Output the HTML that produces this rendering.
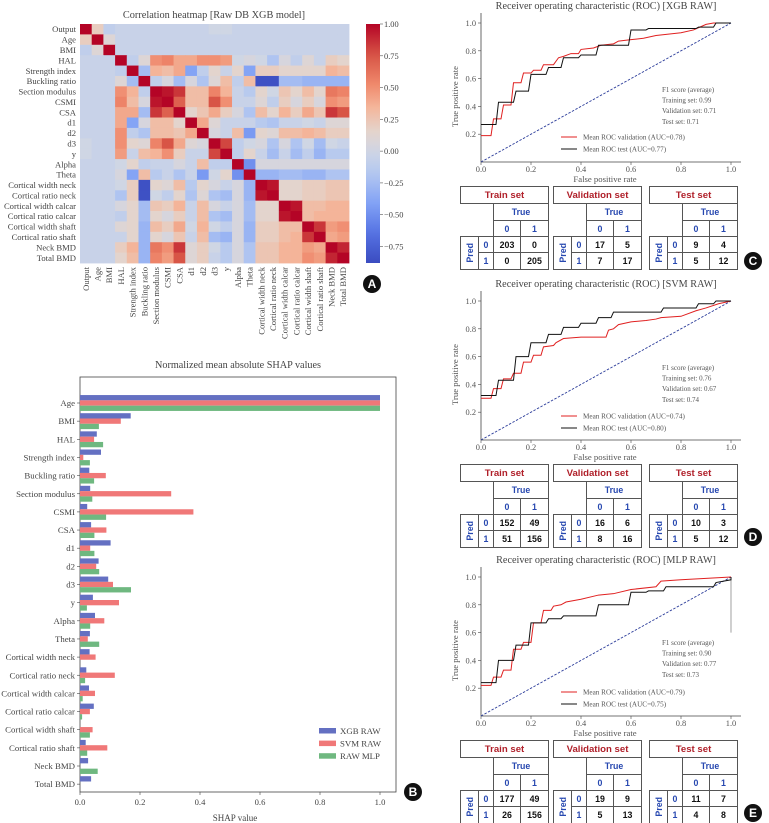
<!DOCTYPE html>
<html><head><meta charset="utf-8">
<style>
html,body{margin:0;padding:0;background:#fff;}
#root{position:relative;width:769px;height:823px;overflow:hidden;font-family:"Liberation Serif",serif;}
svg{position:absolute;left:0;top:0;}
.cell{position:absolute;box-sizing:border-box;border:1px solid #555;display:flex;align-items:center;justify-content:center;font-family:"Liberation Sans",sans-serif;font-weight:bold;font-size:8.8px;color:#111;background:#fff;}
.ttl{color:#b0202a;font-size:9.6px;}
.blue{color:#2748b0;}
.pred{writing-mode:vertical-rl;transform:rotate(180deg);}
.badge{position:absolute;width:18px;height:18px;border-radius:50%;background:#111;color:#fff;font-family:"Liberation Sans",sans-serif;font-weight:bold;font-size:12px;display:flex;align-items:center;justify-content:center;}
</style></head>
<body>
<div id="root">
<svg id="svg" width="769" height="823" viewBox="0 0 769 823"></svg>
<div class="badge" style="left:363px;top:275px">A</div>
<div class="badge" style="left:404px;top:783px">B</div>
<div class="badge" style="left:744px;top:252px">C</div>
<div class="badge" style="left:744px;top:528px">D</div>
<div class="badge" style="left:744px;top:804px">E</div>
</div>
<script>
// ---------- Heatmap data ----------
const heatLabels = ["Output","Age","BMI","HAL","Strength index","Buckling ratio","Section modulus","CSMI","CSA","d1","d2","d3","y","Alpha","Theta","Cortical width neck","Cortical ratio neck","Cortical width calcar","Cortical ratio calcar","Cortical width shaft","Cortical ratio shaft","Neck BMD","Total BMD"];
const corrUpper = [
 [0.2,-0.1,-0.05,-0.05,-0.05,-0.05,-0.05,-0.05,-0.05,-0.05,0.0,0.0,-0.05,-0.05,-0.05,-0.05,-0.05,-0.05,-0.05,-0.05,-0.05,-0.05],
 [0.1,-0.05,-0.05,-0.05,-0.05,-0.05,-0.05,-0.05,-0.05,-0.05,-0.05,-0.05,-0.05,-0.05,-0.05,-0.05,-0.05,-0.05,-0.05,-0.05,-0.05],
 [-0.05,-0.05,-0.05,-0.05,-0.05,-0.05,-0.05,-0.05,-0.05,-0.05,-0.05,-0.05,-0.05,-0.05,-0.05,-0.05,-0.05,-0.05,-0.05,-0.05],
 [-0.1,0.1,0.5,0.55,0.4,0.4,0.5,0.5,0.45,0.0,0.05,0.0,-0.2,0.05,-0.1,0.1,-0.05,0.2,0.15],
 [-0.25,0.35,0.3,0.4,-0.4,-0.1,0.15,-0.05,0.15,-0.4,0.2,0.2,0.15,0.15,0.15,0.15,0.35,0.3],
 [-0.1,0.05,-0.25,0.05,-0.2,0.1,0.3,-0.1,0.3,-0.85,-0.85,-0.25,-0.25,-0.3,-0.3,-0.3,-0.3],
 [0.95,0.85,0.3,0.3,0.55,0.35,-0.05,-0.15,0.15,0.0,0.25,0.15,0.3,0.15,0.6,0.55],
 [0.7,0.3,0.3,0.75,0.5,-0.05,-0.05,0.1,-0.1,0.2,0.05,0.2,0.05,0.5,0.45],
 [0.15,0.25,0.4,0.2,0.05,-0.2,0.3,0.15,0.35,0.2,0.4,0.25,0.85,0.75],
 [0.4,0.1,-0.05,-0.05,-0.05,-0.15,-0.2,-0.05,-0.05,0.0,-0.05,0.1,0.1],
 [0.05,-0.05,0.3,-0.45,0.15,0.1,0.3,0.3,0.35,0.3,0.2,0.2],
 [0.8,-0.1,0.0,0.05,-0.2,0.05,-0.2,0.0,-0.25,0.0,-0.05],
 [-0.1,0.15,-0.05,-0.25,-0.05,-0.25,-0.1,-0.3,-0.15,-0.15],
 [-0.5,0.05,0.05,0.05,0.05,0.05,0.05,0.05,0.05],
 [-0.3,-0.3,-0.25,-0.25,-0.3,-0.3,-0.2,-0.2],
 [0.95,0.15,0.15,0.2,0.2,0.25,0.25],
 [0.15,0.15,0.2,0.2,0.25,0.25],
 [0.95,0.3,0.3,0.35,0.35],
 [0.3,0.35,0.35,0.35],
 [0.85,0.45,0.5],
 [0.4,0.45],
 [0.9]
];
const cbarTicks = [1.0,0.75,0.5,0.25,0.0,-0.25,-0.5,-0.75];

// ---------- SHAP data ----------
const shapFeatures = ["Age","BMI","HAL","Strength index","Buckling ratio","Section modulus","CSMI","CSA","d1","d2","d3","y","Alpha","Theta","Cortical width neck","Cortical ratio neck","Cortical width calcar","Cortical ratio calcar","Cortical width shaft","Cortical ratio shaft","Neck BMD","Total BMD"];
const shapXGB = [1,0.169,0.056,0.07,0.031,0.034,0.024,0.037,0.102,0.062,0.094,0.043,0.05,0.033,0.032,0.021,0.03,0.046,0,0.019,0.027,0.037];
const shapSVM = [1,0.136,0.047,0.011,0.086,0.304,0.378,0.088,0.034,0.054,0.11,0.13,0.081,0.026,0.052,0.116,0.05,0.033,0.042,0.091,0,0];
const shapMLP = [1,0.063,0.077,0.033,0.047,0.041,0.087,0.048,0.048,0.064,0.17,0.023,0.034,0.064,0,0.017,0.009,0.007,0.033,0.024,0.059,0];
const shapTicks = [0,0.2,0.4,0.6,0.8,1.0];

// ---------- ROC data ----------
const rocTicks = [0,0.2,0.4,0.6,0.8,1.0];
const rocC_valFpr = [0,0.04,0.05,0.08,0.09,0.12,0.13,0.16,0.17,0.2,0.21,0.24,0.25,0.29,0.31,0.33,0.36,0.39,0.4,0.45,0.48,0.53,0.55,0.6,0.65,0.7,0.75,0.8,0.85,0.9,0.93,1];
const rocC_valTpr = [0.19,0.19,0.31,0.31,0.41,0.41,0.57,0.57,0.64,0.64,0.66,0.66,0.7,0.7,0.75,0.76,0.78,0.78,0.81,0.82,0.84,0.85,0.87,0.88,0.89,0.91,0.92,0.93,0.95,0.99,1,1];
const rocC_testFpr = [0,0.06,0.07,0.13,0.14,0.19,0.2,0.26,0.27,0.32,0.33,0.39,0.4,0.46,0.47,0.59,0.6,0.66,0.67,0.86,0.87,0.93,0.94,1];
const rocC_testTpr = [0.27,0.27,0.43,0.43,0.51,0.51,0.63,0.63,0.68,0.68,0.75,0.75,0.77,0.77,0.84,0.84,0.95,0.95,0.96,0.96,0.97,0.97,1,1];
const rocD_valFpr = [0,0.04,0.05,0.08,0.09,0.12,0.13,0.16,0.17,0.2,0.21,0.24,0.25,0.29,0.3,0.33,0.4,0.5,0.51,0.53,0.55,0.6,0.66,0.7,0.72,0.8,0.86,0.9,0.95,1];
const rocD_valTpr = [0.3,0.3,0.37,0.37,0.44,0.44,0.48,0.48,0.56,0.56,0.61,0.61,0.67,0.68,0.7,0.73,0.74,0.74,0.79,0.8,0.83,0.85,0.86,0.87,0.88,0.89,0.93,0.95,0.98,1];
const rocD_testFpr = [0,0.06,0.07,0.13,0.14,0.19,0.2,0.26,0.27,0.32,0.33,0.39,0.4,0.46,0.47,0.52,0.53,0.72,0.73,0.86,0.87,0.93,0.94,1];
const rocD_testTpr = [0.32,0.32,0.43,0.43,0.6,0.6,0.7,0.7,0.76,0.76,0.81,0.81,0.84,0.84,0.88,0.88,0.92,0.92,0.95,0.95,0.98,0.98,1,1];
const rocE_valFpr = [0,0.04,0.05,0.08,0.09,0.12,0.13,0.16,0.17,0.2,0.21,0.24,0.25,0.28,0.29,0.32,0.34,0.4,0.47,0.53,0.6,0.7,0.72,0.8,0.9,1];
const rocE_valTpr = [0.22,0.22,0.28,0.28,0.33,0.33,0.48,0.48,0.53,0.53,0.67,0.67,0.76,0.76,0.79,0.8,0.82,0.84,0.87,0.88,0.91,0.93,0.97,0.98,0.99,1];
const rocE_testFpr = [0,0.06,0.07,0.13,0.14,0.19,0.2,0.26,0.27,0.32,0.33,0.46,0.47,0.59,0.6,0.66,0.67,0.73,0.74,0.93,0.94,1,1];
const rocE_testTpr = [0.24,0.24,0.4,0.4,0.51,0.51,0.67,0.67,0.7,0.7,0.72,0.72,0.8,0.8,0.89,0.89,0.9,0.9,0.93,0.93,0.96,0.98,1];
const f1C = ["F1 score (average)","Training set: 0.99","Validation set: 0.71","Test set: 0.71"];
const f1D = ["F1 score (average)","Training set: 0.76","Validation set: 0.67","Test set: 0.74"];
const f1E = ["F1 score (average)","Training set: 0.90","Validation set: 0.77","Test set: 0.73"];
const cmC = [[203,0,0,205],[17,5,7,17],[9,4,5,12]];
const cmD = [[152,49,51,156],[16,6,8,16],[10,3,5,12]];
const cmE = [[177,49,26,156],[19,9,5,13],[11,7,4,8]];

const NS="http://www.w3.org/2000/svg";
const svg=document.getElementById('svg');
function mk(tag,attrs,parent){const e=document.createElementNS(NS,tag);for(const k in attrs)e.setAttribute(k,attrs[k]);(parent||svg).appendChild(e);return e;}
function txt(s,attrs,parent){const e=mk('text',attrs,parent);e.textContent=s;return e;}

const cwStops=[[0,[59,76,192]],[0.125,[85,114,227]],[0.25,[130,162,245]],[0.375,[180,200,240]],[0.47,[208,214,228]],[0.55,[228,212,204]],[0.65,[244,182,155]],[0.75,[239,136,107]],[0.875,[214,82,68]],[1,[180,4,38]]];
function cw(t){t=Math.max(0,Math.min(1,t));for(let i=1;i<cwStops.length;i++){if(t<=cwStops[i][0]){const a=cwStops[i-1],b=cwStops[i];const f=(t-a[0])/(b[0]-a[0]);const c=a[1].map((v,k)=>Math.round(v+(b[1][k]-v)*f));return `rgb(${c[0]},${c[1]},${c[2]})`;}}return 'rgb(180,4,38)';}
const vmin=-0.88,vmax=1.0;
const hx0=80,hy0=24,hw=269,hh=239;
const n=heatLabels.length;
const cwid=hw/n, chei=hh/n;
function corr(i,j){if(i===j)return 1;if(i<j)return corrUpper[i][j-i-1];return corrUpper[j][i-j-1];}

// ---------- Panel A ----------
const gA=mk('g',{});


let t=txt('Correlation heatmap [Raw DB XGB model]',{x:214,y:18,'text-anchor':'middle','font-size':10.3,fill:'#444'},gA);


for(let i=0;i<n;i++){for(let j=0;j<n;j++){
 const v=corr(i,j);
 const r=mk('rect',{x:hx0+j*cwid,y:hy0+i*chei,width:cwid+0.4,height:chei+0.4,fill:cw((v-vmin)/(vmax-vmin))},gA);
 
 
}}
for(let i=0;i<n;i++){
 const ly=txt(heatLabels[i],{x:hx0-4,y:hy0+(i+0.5)*chei+3,'text-anchor':'end','font-size':8.6,fill:'#444'},gA);
 
 
 const cx=hx0+(i+0.5)*cwid+3;
 const lx=txt(heatLabels[i],{x:cx,y:hy0+hh+4,transform:`rotate(-90 ${cx} ${hy0+hh+4})`,'text-anchor':'end','font-size':8.6,fill:'#444'},gA);
 
 
}
const defs=mk('defs',{});
const lg=mk('linearGradient',{id:'cbg',x1:0,y1:1,x2:0,y2:0},defs);
for(let k=0;k<=20;k++){mk('stop',{offset:k/20,'stop-color':cw(k/20)},lg);}
const cb=mk('rect',{x:366,y:hy0,width:14,height:hh,fill:'url(#cbg)'},gA);


cbarTicks.forEach(v=>{
 const yy=hy0+(vmax-v)/(vmax-vmin)*hh;
 mk('line',{x1:380,x2:383,y1:yy,y2:yy,stroke:'#555','stroke-width':0.6},gA);
 const tl=txt(v.toFixed(2).replace('-','\u2212'),{x:384,y:yy+3,'font-size':8.4,fill:'#444'},gA);
 
 
});

// ---------- Panel B ----------
const gB=mk('g',{});


const bx0=80,bxs=300,by0=403,bstep=18.15,bh=5.3;
function sx(v){return bx0+v*bxs;}
t=txt('Normalized mean absolute SHAP values',{x:238,y:368,'text-anchor':'middle','font-size':10.2,fill:'#444'},gB);


const frame=mk('rect',{x:80,y:377,width:316,height:415,fill:'none',stroke:'#444','stroke-width':0.8},gB);


const series=[[shapXGB,'#6470c2','xgb'],[shapSVM,'#f07878','svm'],[shapMLP,'#6fb880','mlp']];
shapFeatures.forEach((f,i)=>{
 const cy=by0+i*bstep;
 series.forEach((s,k)=>{
  const v=s[0][i];
  if(v>0){
   const r=mk('rect',{x:sx(0),y:cy+(k-1)*bh-bh/2,width:sx(v)-sx(0),height:bh,fill:s[1]},gB);
   
   
  }
 });
 mk('line',{x1:77,x2:80,y1:cy,y2:cy,stroke:'#444','stroke-width':0.6},gB);
 const l=txt(f,{x:75,y:cy+3,'text-anchor':'end','font-size':8.8,fill:'#444'},gB);
 
 
});
shapTicks.forEach(v=>{
 mk('line',{x1:sx(v),x2:sx(v),y1:792,y2:795,stroke:'#444','stroke-width':0.6},gB);
 const l=txt(v.toFixed(1),{x:sx(v),y:805,'text-anchor':'middle','font-size':8.6,fill:'#444'},gB);
 
 
});
t=txt('SHAP value',{x:235,y:821,'text-anchor':'middle','font-size':9,fill:'#444'},gB);


[['XGB RAW','#6470c2'],['SVM RAW','#f07878'],['RAW MLP','#6fb880']].forEach((e,k)=>{
 const yy=731+k*12.6;
 const r=mk('rect',{x:319,y:yy-3,width:17,height:5.5,fill:e[1]},gB);
 
 
 const l=txt(e[0],{x:340,y:yy+3,'font-size':8.8,fill:'#444'},gB);
 
 
});

// ---------- ROC panels ----------
function rocPanel(name,title,top1,zero,valF,valT,testF,testT,f1,aucV,aucT,f1y,legy,rightSpine){
 const g=mk('g',{});
 
 
 const X=f=>481+250*f, Y=v=>zero-(zero-top1)*v;
 let tt=txt(title,{x:606,y:top1-14,'text-anchor':'middle','font-size':10.2,fill:'#444'},g);
 
 
 mk('line',{x1:481,x2:481,y1:top1-10,y2:zero,stroke:'#444','stroke-width':0.8},g);
 mk('line',{x1:481,x2:741,y1:zero,y2:zero,stroke:'#444','stroke-width':0.8},g);
 if(rightSpine){mk('line',{x1:X(1),x2:X(1),y1:Y(1),y2:Y(0.6),stroke:'#888','stroke-width':0.8},g);}
 rocTicks.forEach(v=>{
  mk('line',{x1:X(v),x2:X(v),y1:zero,y2:zero+3,stroke:'#444','stroke-width':0.6},g);
  const l=txt(v.toFixed(1),{x:X(v),y:zero+10,'text-anchor':'middle','font-size':8.4,fill:'#555'},g);
  
  
  if(v>0){
   mk('line',{x1:478,x2:481,y1:Y(v),y2:Y(v),stroke:'#444','stroke-width':0.6},g);
   const m=txt(v.toFixed(1),{x:476,y:Y(v)+3,'text-anchor':'end','font-size':8.4,fill:'#555'},g);
   
   
  }
 });
 tt=txt('False positive rate',{x:605,y:zero+20,'text-anchor':'middle','font-size':8.7,fill:'#555'},g);
 
 
 const ycx=458, ycy=(zero+top1)/2+4;
 tt=txt('True positive rate',{x:ycx,y:ycy,transform:`rotate(-90 ${ycx} ${ycy})`,'text-anchor':'middle','font-size':8.7,fill:'#555'},g);
 
 
 const d=mk('line',{x1:X(0),y1:Y(0),x2:X(1),y2:Y(1),stroke:'#2b3c9a','stroke-width':0.9,'stroke-dasharray':'2.5,1.5'},g);
 
 
 const pv=valF.map((f,i)=>X(f)+','+Y(valT[i])).join(' ');
 const lv=mk('polyline',{points:pv,fill:'none',stroke:'#e02020','stroke-width':1},g);
 
 
 const pt=testF.map((f,i)=>X(f)+','+Y(testT[i])).join(' ');
 const lt=mk('polyline',{points:pt,fill:'none',stroke:'#111','stroke-width':1},g);
 
 
 f1.forEach((s,k)=>{
  const l=txt(s,{x:662,y:f1y+k*10.6,'font-size':7,fill:'#555'},g);
  
  
 });
 mk('line',{x1:561,x2:577,y1:legy,y2:legy,stroke:'#e02020','stroke-width':1},g);
 mk('line',{x1:561,x2:577,y1:legy+12,y2:legy+12,stroke:'#111','stroke-width':1},g);
 let l=txt('Mean ROC validation (AUC=0'+aucV.slice(1)+')',{x:583,y:legy+2.5,'font-size':7.2,fill:'#555'},g);
 
 
 l=txt('Mean ROC test (AUC=0'+aucT.slice(1)+')',{x:583,y:legy+14.5,'font-size':7.2,fill:'#555'},g);
 
 
}
rocPanel('xgb','Receiver operating characteristic (ROC) [XGB RAW]',23,162,rocC_valFpr,rocC_valTpr,rocC_testFpr,rocC_testTpr,f1C,'0.78','0.77',92,137,false);
rocPanel('svm','Receiver operating characteristic (ROC) [SVM RAW]',301,440,rocD_valFpr,rocD_valTpr,rocD_testFpr,rocD_testTpr,f1D,'0.74','0.80',370,416,false);
rocPanel('mlp','Receiver operating characteristic (ROC) [MLP RAW]',577,716,rocE_valFpr,rocE_valTpr,rocE_testFpr,rocE_testTpr,f1E,'0.79','0.75',645,692,true);

// ---------- Confusion tables ----------
const root=document.getElementById('root');
function cell(x,y,w,h,html,cls,parent){const d=document.createElement('div');d.className='cell '+(cls||'');d.style.left=x+'px';d.style.top=y+'px';d.style.width=(w+1)+'px';d.style.height=(h+1)+'px';d.innerHTML=html;parent.appendChild(d);return d;}
const tblTitles=['Train set','Validation set','Test set'];
const tblX=[460,553,649];
function tables(y0,cms,panel){
 cms.forEach((cm,k)=>{
  const wrap=document.createElement('div');
  wrap.style.position='absolute';wrap.style.left=tblX[k]+'px';wrap.style.top=y0+'px';
  
  
  root.appendChild(wrap);
  const c1=cell(0,0,88,17,tblTitles[k],'ttl',wrap);
  
  
  const c2=cell(33,17,55,17,'True','blue',wrap);
  
  
  cell(33,34,27,16,'0','blue',wrap);
  cell(60,34,28,16,'1','blue',wrap);
  const p=cell(0,50,18,33,'<span class="pred">Pred</span>','blue',wrap);
  
  
  cell(18,50,15,16,'0','blue',wrap);
  cell(18,66,15,17,'1','blue',wrap);
  [[33,50,27,16],[60,50,28,16],[33,66,27,17],[60,66,28,17]].forEach((q,i)=>{
   const v=cell(q[0],q[1],q[2],q[3],String(cm[i]),'',wrap);
   
   
  });
 });
}
tables(186,cmC,'c');
tables(464,cmD,'d');
tables(740,cmE,'e');
</script>
</body></html>
